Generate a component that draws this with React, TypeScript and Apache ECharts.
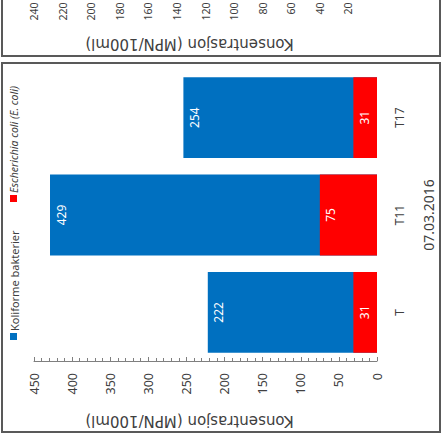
import React, { useEffect, useRef } from "react";
import * as echarts from "echarts";

const categories = ["T", "T11", "T17"];
const koliformeValues = [222, 429, 254];
const ecoliValues = [31, 75, 31];
const seriesNames = ["Koliforme bakterier", "Escherichia coli (E. coli)"];
const dateLabel = "07.03.2016";
const axisTitle = "Konsentrasjon (MPN/100ml)";
const mainAxisMax = 450;
const mainAxisInterval = 50;
const upperAxisMax = 240;
const upperAxisInterval = 20;

const BLUE = "#0070C0";
const RED = "#FF0000";
const TXT = "#404040";
const AXIS = "#7f7f7f";
const FONT = "'Noto Sans', 'Open Sans', sans-serif";
const TITLE_FONT = "'DejaVu Sans', sans-serif";

export default function App() {
  const ref = useRef<HTMLDivElement>(null);
  useEffect(() => {
    if (!ref.current) return;
    const chart = echarts.init(ref.current, undefined, { renderer: "svg" });
    const barLabel = {
      show: true,
      position: "insideLeft",
      distance: 11,
      rotate: 90,
      align: "center",
      verticalAlign: "middle",
      color: "#ffffff",
      fontSize: 12,
      fontFamily: FONT,
    };
    chart.setOption({
      animation: false,
      backgroundColor: "#ffffff",
      grid: [
        { left: 34, right: 66, top: 69, bottom: 73, outerBoundsMode: "none" },
        { left: 34, right: 66, top: -120, height: 110.5, outerBoundsMode: "none" },
      ],
      xAxis: [
        {
          type: "value",
          gridIndex: 0,
          inverse: true,
          min: 0,
          max: mainAxisMax,
          interval: mainAxisInterval,
          position: "bottom",
          axisLine: { show: true, lineStyle: { color: AXIS, width: 1 } },
          axisTick: { show: true, inside: true, length: 4, lineStyle: { color: AXIS } },
          minorTick: { show: true, splitNumber: 5, length: 3, lineStyle: { color: AXIS } },
          splitLine: { show: false },
          axisLabel: { rotate: 90, margin: 12, fontSize: 12.5, color: TXT, fontFamily: FONT },
          name: axisTitle,
          nameLocation: "middle",
          nameRotate: 180,
          nameGap: 52,
          nameMoveOverlap: false,
          nameTextStyle: { fontSize: 15, color: TXT, fontFamily: TITLE_FONT, padding: [0, 0, 0, 32] },
        },
        {
          type: "value",
          gridIndex: 1,
          inverse: true,
          min: 0,
          max: upperAxisMax,
          interval: upperAxisInterval,
          position: "bottom",
          axisLine: { show: false },
          axisTick: { show: false },
          splitLine: { show: false },
          axisLabel: { rotate: 90, margin: 12, fontSize: 10.5, color: TXT, fontFamily: FONT, showMinLabel: false },
          name: axisTitle,
          nameLocation: "middle",
          nameRotate: 180,
          nameGap: 46,
          nameMoveOverlap: false,
          nameTextStyle: { fontSize: 15, color: TXT, fontFamily: TITLE_FONT, padding: [0, 0, 0, 32] },
        },
      ],
      yAxis: [
        {
          type: "category",
          gridIndex: 0,
          data: categories,
          position: "right",
          axisLine: { show: false },
          axisTick: { show: false },
          axisLabel: { rotate: 90, margin: 16, fontSize: 12, color: TXT, fontFamily: FONT },
          name: dateLabel,
          nameLocation: "middle",
          nameRotate: 90,
          nameGap: 44,
          nameTextStyle: { fontSize: 14, color: TXT, fontFamily: FONT },
        },
        { type: "category", gridIndex: 1, data: [], show: false },
      ],
      series: [
        {
          name: seriesNames[0],
          type: "bar",
          xAxisIndex: 0,
          yAxisIndex: 0,
          data: koliformeValues,
          barGap: "-100%",
          barCategoryGap: "17%",
          itemStyle: { color: BLUE },
          label: barLabel,
        },
        {
          name: seriesNames[1],
          type: "bar",
          xAxisIndex: 0,
          yAxisIndex: 0,
          data: ecoliValues,
          barGap: "-100%",
          barCategoryGap: "17%",
          itemStyle: { color: RED },
          label: barLabel,
        },
      ],
      graphic: [
        {
          type: "rect",
          shape: { x: 2, y: -10, width: 438, height: 66 },
          style: { fill: "none", stroke: "#595959", lineWidth: 2 },
          silent: true,
        },
        {
          type: "rect",
          shape: { x: 2, y: 63, width: 438, height: 369 },
          style: { fill: "none", stroke: "#595959", lineWidth: 2 },
          silent: true,
        },
        {
          type: "rect",
          shape: { x: 10, y: 333, width: 7, height: 7 },
          style: { fill: BLUE },
        },
        {
          type: "text",
          x: 14,
          y: 331,
          rotation: Math.PI / 2,
          style: {
            text: seriesNames[0],
            fill: TXT,
            fontSize: 11,
            fontFamily: FONT,
            align: "left",
            verticalAlign: "middle",
          },
        },
        {
          type: "rect",
          shape: { x: 10, y: 195, width: 7, height: 7 },
          style: { fill: RED },
        },
        {
          type: "text",
          x: 14,
          y: 193,
          rotation: Math.PI / 2,
          style: {
            text: seriesNames[1],
            fill: TXT,
            fontSize: 10.5,
            fontStyle: "italic",
            fontFamily: FONT,
            align: "left",
            verticalAlign: "middle",
          },
        },
      ],
    });
    return () => chart.dispose();
  }, []);
  return (
    <div
      ref={ref}
      style={{ position: "fixed", left: 0, top: 0, width: 443, height: 434 }}
    />
  );
}
